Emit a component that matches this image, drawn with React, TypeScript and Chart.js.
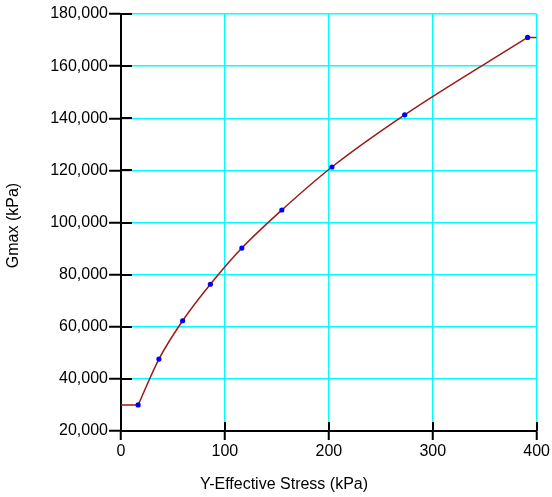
import React, { useEffect, useRef } from 'react';
import { Chart, registerables } from 'chart.js';

Chart.register(...registerables);

// ---- data ----
const stressKPa = [16.5, 36.5, 59.3, 86, 116.3, 154.8, 203, 273, 391.3];
const gmaxKPa = [30000, 47600, 62300, 76300, 90200, 104800, 121300, 141300, 171000];
const xMin = 0;
const xMax = 400;
const xStep = 100;
const yMin = 20000;
const yMax = 180000;
const yStep = 20000;
const xTitle = 'Y-Effective Stress (kPa)';
const yTitle = 'Gmax (kPa)';

const FONT_FAMILY = '"Liberation Sans", Arial, Helvetica, sans-serif';
const FONT_SIZE = 16;

const axisDecor = {
  id: 'axisDecor',
  afterDraw(chart: any) {
    const { ctx, chartArea: a, scales } = chart;
    const x = scales.x;
    const y = scales.y;
    ctx.save();
    ctx.strokeStyle = '#000000';
    ctx.lineWidth = 2;
    y.ticks.forEach((t: any) => {
      const py = Math.round(y.getPixelForValue(t.value));
      ctx.beginPath();
      ctx.moveTo(a.left, py);
      ctx.lineTo(a.left + 11, py);
      ctx.stroke();
    });
    x.ticks.forEach((t: any) => {
      const px = Math.round(x.getPixelForValue(t.value));
      ctx.beginPath();
      ctx.moveTo(px, a.bottom);
      ctx.lineTo(px, a.bottom - 9);
      ctx.stroke();
    });
    ctx.fillStyle = '#000000';
    ctx.font = `${FONT_SIZE}px ${FONT_FAMILY}`;
    ctx.textAlign = 'center';
    ctx.textBaseline = 'middle';
    ctx.fillText(xTitle, 284, 485);
    ctx.translate(14, (a.top + a.bottom) / 2 + 3);
    ctx.rotate(-Math.PI / 2);
    ctx.fillText(yTitle, 0, 0);
    ctx.restore();
  },
};

export default function App() {
  const canvasRef = useRef<HTMLCanvasElement | null>(null);

  useEffect(() => {
    const canvas = canvasRef.current;
    if (!canvas) return;
    const points = stressKPa.map((v, i) => ({ x: v, y: gmaxKPa[i] }));
    const last = stressKPa.length - 1;
    const flatEnds = [
      { x: xMin, y: gmaxKPa[0] },
      { x: stressKPa[0], y: gmaxKPa[0] },
      { x: (stressKPa[0] + stressKPa[last]) / 2, y: null as any },
      { x: stressKPa[last], y: gmaxKPa[last] },
      { x: xMax, y: gmaxKPa[last] },
    ];
    const lineColor = '#9C1A1A';
    const chart = new Chart(canvas, {
      type: 'scatter',
      data: {
        datasets: [
          {
            label: 'points',
            data: points,
            showLine: false,
            pointRadius: 2.6,
            pointBackgroundColor: '#0000FF',
            pointBorderWidth: 0,
            order: 0,
          },
          {
            label: 'curve',
            data: points,
            showLine: true,
            borderColor: lineColor,
            borderWidth: 1.5,
            pointRadius: 0,
            cubicInterpolationMode: 'monotone',
            order: 1,
          },
          {
            label: 'ends',
            data: flatEnds,
            showLine: true,
            spanGaps: false,
            borderColor: lineColor,
            borderWidth: 1.5,
            pointRadius: 0,
            order: 1,
          },
        ],
      } as any,
      options: {
        animation: false,
        responsive: true,
        maintainAspectRatio: false,
        layout: { padding: { top: 14, right: 15, left: 0, bottom: 0 } },
        plugins: {
          legend: { display: false },
          tooltip: { enabled: false },
        },
        scales: {
          x: {
            type: 'linear',
            min: xMin,
            max: xMax,
            ticks: {
              stepSize: xStep,
              padding: 2,
              color: '#000000',
              font: { family: FONT_FAMILY, size: FONT_SIZE },
            },
            grid: {
              color: '#00FFFF',
              lineWidth: 1.5,
              tickColor: '#000000',
              tickLength: 9,
              tickWidth: 2,
            },
            border: { color: '#000000', width: 2 },
            afterFit: (s: any) => {
              s.height = 66;
            },
          },
          y: {
            type: 'linear',
            min: yMin,
            max: yMax,
            ticks: {
              stepSize: yStep,
              padding: 1,
              color: '#000000',
              font: { family: FONT_FAMILY, size: FONT_SIZE },
              callback: (v: any) => Number(v).toLocaleString('en-US'),
            },
            grid: {
              color: '#00FFFF',
              lineWidth: 1.5,
              tickColor: '#000000',
              tickLength: 12,
              tickWidth: 2,
            },
            border: { color: '#000000', width: 2 },
            afterFit: (s: any) => {
              s.width = 121;
            },
          },
        },
      } as any,
      plugins: [axisDecor],
    });
    return () => chart.destroy();
  }, []);

  return (
    <div style={{ position: 'fixed', left: 0, top: 0, width: 552, height: 497, background: '#ffffff' }}>
      <canvas ref={canvasRef} />
    </div>
  );
}
